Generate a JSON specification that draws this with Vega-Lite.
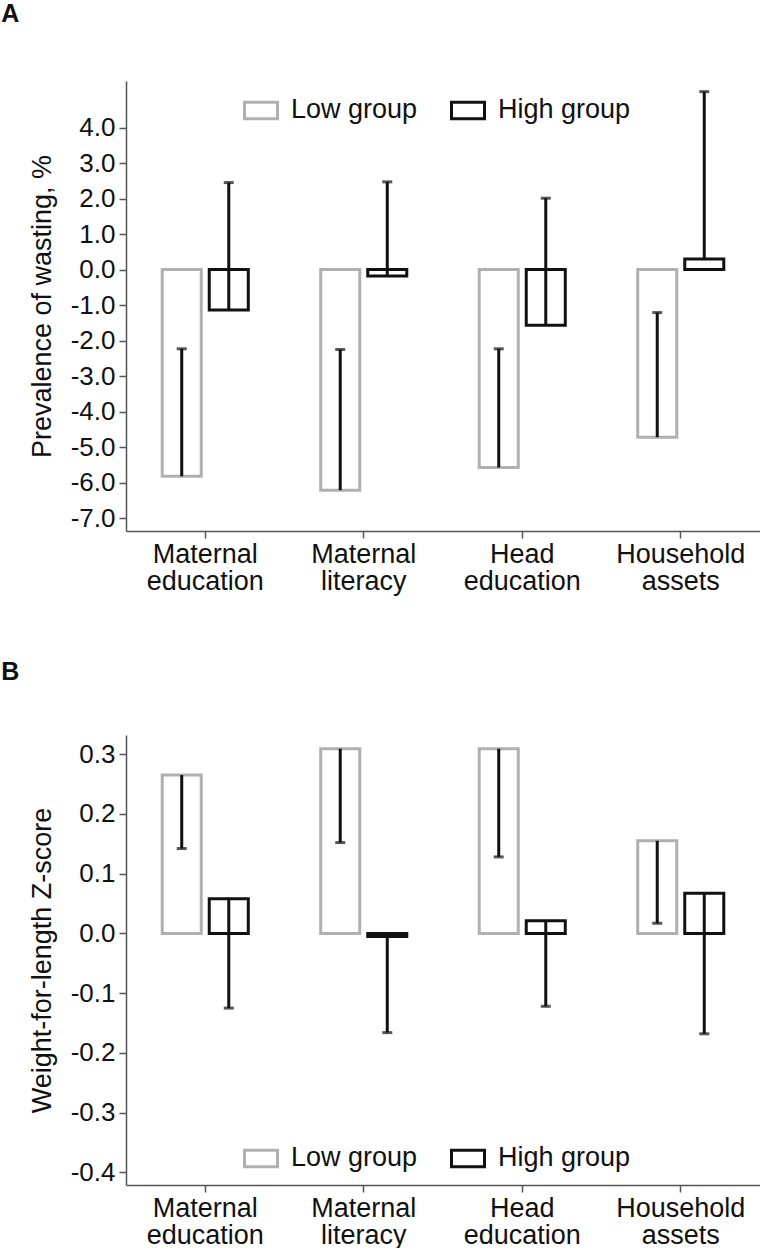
{
  "$schema": "https://vega.github.io/schema/vega-lite/v6.json",
  "padding": {"left": 1, "top": 2, "right": 0, "bottom": 0},
  "spacing": 66,
  "resolve": {"scale": {"stroke": "independent"}, "legend": {"stroke": "independent"}},
  "config": {
    "font": "Liberation Sans",
    "view": {"stroke": null},
    "axis": {
      "grid": false,
      "domainColor": "#555555",
      "domainWidth": 1.5,
      "tickColor": "#555555",
      "tickWidth": 1.5,
      "tickSize": 7,
      "labelFontSize": 26,
      "labelColor": "#111111",
      "labelFont": "Liberation Sans",
      "titleFont": "Liberation Sans",
      "titleFontSize": 27,
      "titleFontWeight": "normal",
      "titleColor": "#111111"
    },
    "legend": {
      "labelFontSize": 27,
      "labelColor": "#111111",
      "labelFont": "Liberation Sans"
    },
    "title": {"font": "Liberation Sans", "color": "#111111"}
  },
  "datasets": {
    "wasting": [
      {"cat": "Maternal education", "group": "Low group", "value": -5.82, "bound": -2.23},
      {"cat": "Maternal education", "group": "High group", "value": -1.14, "bound": 2.45},
      {"cat": "Maternal literacy", "group": "Low group", "value": -6.21, "bound": -2.25},
      {"cat": "Maternal literacy", "group": "High group", "value": -0.18, "bound": 2.47},
      {"cat": "Head education", "group": "Low group", "value": -5.57, "bound": -2.23},
      {"cat": "Head education", "group": "High group", "value": -1.57, "bound": 2.01},
      {"cat": "Household assets", "group": "Low group", "value": -4.72, "bound": -1.21},
      {"cat": "Household assets", "group": "High group", "value": 0.3, "bound": 5.01}
    ],
    "wfl": [
      {"cat": "Maternal education", "group": "Low group", "value": 0.265, "bound": 0.142},
      {"cat": "Maternal education", "group": "High group", "value": 0.058, "bound": -0.125},
      {"cat": "Maternal literacy", "group": "Low group", "value": 0.309, "bound": 0.152},
      {"cat": "Maternal literacy", "group": "High group", "value": -0.005, "bound": -0.166},
      {"cat": "Head education", "group": "Low group", "value": 0.309, "bound": 0.128},
      {"cat": "Head education", "group": "High group", "value": 0.021, "bound": -0.122},
      {"cat": "Household assets", "group": "Low group", "value": 0.155, "bound": 0.017},
      {"cat": "Household assets", "group": "High group", "value": 0.067, "bound": -0.168}
    ]
  },
  "vconcat": [
    {
      "title": {"text": "A", "anchor": "start", "frame": "bounds", "fontSize": 25, "fontWeight": "bold", "offset": 54, "dx": -27},
      "width": 634,
      "height": 450,
      "data": {"name": "wasting"},
      "encoding": {
        "x": {
          "field": "cat", "type": "nominal",
          "sort": ["Maternal education", "Maternal literacy", "Head education", "Household assets"],
          "scale": {"paddingInner": 0.457, "paddingOuter": 0.2285},
          "axis": {"title": null, "labelAngle": 0, "labelExpr": "split(datum.label, ' ')", "labelLineHeight": 27, "labelPadding": 3, "labelFontSize": 27}
        },
        "xOffset": {
          "field": "group", "type": "nominal",
          "sort": ["Low group", "High group"],
          "scale": {"paddingInner": 0.17, "paddingOuter": 0}
        }
      },
      "layer": [
        {
          "mark": {"type": "bar", "fill": "white", "strokeWidth": 3},
          "encoding": {
            "y": {
              "field": "value", "type": "quantitative",
              "scale": {"domain": [-7.36, 5.31], "nice": false, "zero": false},
              "axis": {"title": "Prevalence of wasting, %", "values": [-7, -6, -5, -4, -3, -2, -1, 0, 1, 2, 3, 4], "labelExpr": "replace(format(datum.value, '.1f'), '\u2212', '-')", "titlePadding": 14, "labelPadding": 4}
            },
            "stroke": {
              "field": "group", "type": "nominal",
              "scale": {"domain": ["Low group", "High group"], "range": ["#b0b0b0", "#111111"]},
              "legend": {
                "title": null, "orient": "none", "direction": "horizontal",
                "legendX": 117, "legendY": 11,
                "symbolType": "M-1,-0.5H1V0.5H-1Z", "symbolSize": 1089,
                "symbolStrokeWidth": 3, "symbolFillColor": "white",
                "labelOffset": 12, "columnPadding": 27
              }
            }
          }
        },
        {
          "mark": {"type": "rule", "color": "#111111", "strokeWidth": 3},
          "encoding": {
            "y": {"field": "value", "type": "quantitative"},
            "y2": {"field": "bound"}
          }
        },
        {
          "mark": {"type": "tick", "color": "#111111", "thickness": 3, "size": 10, "orient": "horizontal"},
          "encoding": {
            "y": {"field": "bound", "type": "quantitative"}
          }
        },
        {
          "mark": {"type": "rule", "color": "#222222", "strokeWidth": 1.5, "strokeDash": [8, 6]},
          "encoding": {"y": {"datum": 0}}
        }
      ]
    },
    {
      "title": {"text": "B", "anchor": "start", "frame": "bounds", "fontSize": 25, "fontWeight": "bold", "offset": 50, "dx": -27},
      "width": 634,
      "height": 450,
      "data": {"name": "wfl"},
      "encoding": {
        "x": {
          "field": "cat", "type": "nominal",
          "sort": ["Maternal education", "Maternal literacy", "Head education", "Household assets"],
          "scale": {"paddingInner": 0.457, "paddingOuter": 0.2285},
          "axis": {"title": null, "labelAngle": 0, "labelExpr": "split(datum.label, ' ')", "labelLineHeight": 27, "labelPadding": 3, "labelFontSize": 27}
        },
        "xOffset": {
          "field": "group", "type": "nominal",
          "sort": ["Low group", "High group"],
          "scale": {"paddingInner": 0.17, "paddingOuter": 0}
        }
      },
      "layer": [
        {
          "mark": {"type": "bar", "fill": "white", "strokeWidth": 3},
          "encoding": {
            "y": {
              "field": "value", "type": "quantitative",
              "scale": {"domain": [-0.421, 0.332], "nice": false, "zero": false},
              "axis": {"title": "Weight-for-length Z-score", "values": [-0.4, -0.3, -0.2, -0.1, 0, 0.1, 0.2, 0.3], "labelExpr": "replace(format(datum.value, '.1f'), '\u2212', '-')", "titlePadding": 14, "labelPadding": 4}
            },
            "stroke": {
              "field": "group", "type": "nominal",
              "scale": {"domain": ["Low group", "High group"], "range": ["#b0b0b0", "#111111"]},
              "legend": {
                "title": null, "orient": "none", "direction": "horizontal",
                "legendX": 117, "legendY": 405,
                "symbolType": "M-1,-0.5H1V0.5H-1Z", "symbolSize": 1089,
                "symbolStrokeWidth": 3, "symbolFillColor": "white",
                "labelOffset": 12, "columnPadding": 27
              }
            }
          }
        },
        {
          "mark": {"type": "rule", "color": "#111111", "strokeWidth": 3},
          "encoding": {
            "y": {"field": "value", "type": "quantitative"},
            "y2": {"field": "bound"}
          }
        },
        {
          "mark": {"type": "tick", "color": "#111111", "thickness": 3, "size": 10, "orient": "horizontal"},
          "encoding": {
            "y": {"field": "bound", "type": "quantitative"}
          }
        },
        {
          "mark": {"type": "rule", "color": "#222222", "strokeWidth": 1.5, "strokeDash": [8, 6]},
          "encoding": {"y": {"datum": 0}}
        }
      ]
    }
  ]
}
